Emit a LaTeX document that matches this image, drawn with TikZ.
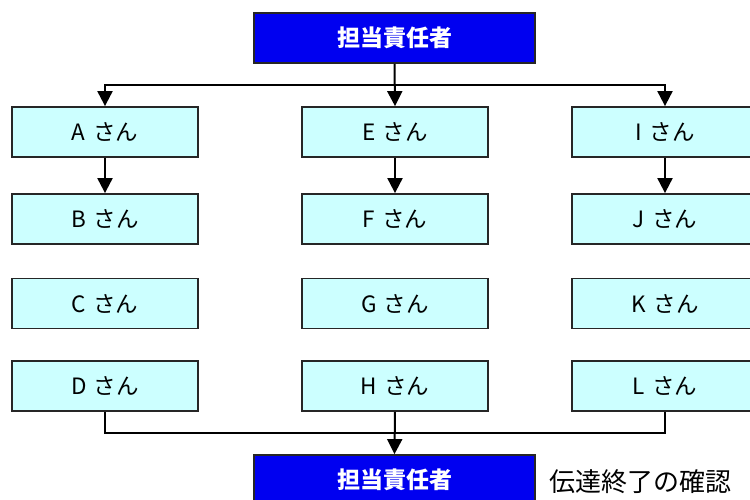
\documentclass[tikz,border=0pt]{standalone}
\usepackage{fontspec}
\setmainfont{Noto Sans CJK JP}
\usetikzlibrary{arrows.meta}
\definecolor{lcyan}{HTML}{CCFFFF}
\definecolor{hblue}{HTML}{0000F0}
\begin{document}
\begin{tikzpicture}[x=1pt,y=-1pt,
  person/.style={draw=black!85, line width=1.8pt, fill=lcyan, minimum width=186pt, minimum height=50pt, inner sep=0pt, font=\fontsize{22.5}{22.5}\selectfont},
  boss/.style={draw=black!85, line width=1.8pt, fill=hblue, text=white, minimum width=281pt, minimum height=50pt, inner sep=0pt, font=\fontsize{23}{23}\selectfont\bfseries},
  conn/.style={line width=2pt, black},
  arr/.style={conn, -{Triangle[length=15pt,width=15pt]}}]
\useasboundingbox (0,0) rectangle (750,500);
\node[boss] (top) at (394.5,38) {担当責任者};
\node[person] (A) at (105,132) {A\,\,さん};
\node[person] (B) at (105,219) {B\,\,さん};
\node[person] (C) at (105,303.5) {C\,\,さん};
\node[person] (D) at (105,386) {D\,\,さん};
\node[person] (E) at (395,132) {E\,\,さん};
\node[person] (F) at (395,219) {F\,\,さん};
\node[person] (G) at (395,303.5) {G\,\,さん};
\node[person] (H) at (395,386) {H\,\,さん};
\node[person] (I) at (665,132) {I\,\,さん};
\node[person] (J) at (665,219) {J\,\,さん};
\node[person] (K) at (665,303.5) {K\,\,さん};
\node[person] (L) at (665,386) {L\,\,さん};
\node[boss] (bot) at (394.5,480) {担当責任者};
\node[anchor=west, inner sep=0pt, font=\fontsize{26}{26}\selectfont] (note) at (549,482) {伝達終了の確認};
\coordinate (jt) at (395,85);
\coordinate (jb) at (395,433);
\draw[arr] (top.south) -- (E.north);
\draw[arr] (jt) -| (A.north);
\draw[arr] (jt) -| (I.north);
\draw[arr] (A) -- (B);
\draw[arr] (E) -- (F);
\draw[arr] (I) -- (J);
\draw[conn] (D.south) |- (jb);
\draw[conn] (L.south) |- (jb);
\draw[arr] (H.south) -- (bot.north);
\end{tikzpicture}
\end{document}
